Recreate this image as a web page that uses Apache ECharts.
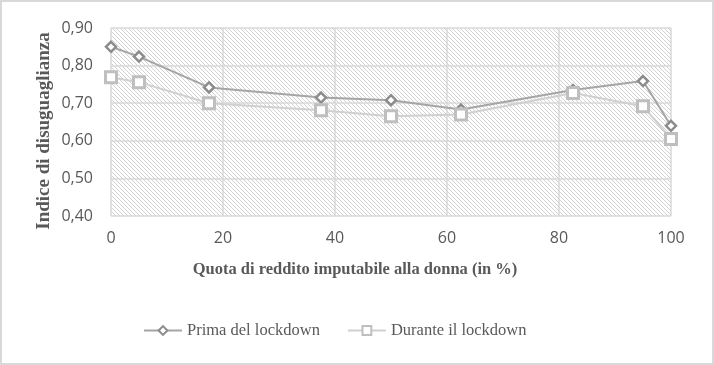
<!DOCTYPE html>
<html>
<head>
<meta charset="utf-8">
<script src="https://cdn.jsdelivr.net/npm/echarts@6/dist/echarts.min.js"></script>
<style>
html,body{margin:0;padding:0;background:#fff;}
#chart{width:714px;height:365px;}
</style>
</head>
<body>
<div id="chart"></div>
<script>
// Data
var quota = [0, 5, 17.5, 37.5, 50, 62.5, 82.5, 95, 100];
var prima = [0.850, 0.824, 0.742, 0.715, 0.708, 0.683, 0.735, 0.759, 0.640];
var durante = [0.769, 0.756, 0.700, 0.681, 0.665, 0.670, 0.727, 0.692, 0.605];
var seriesNames = ['Prima del lockdown', 'Durante il lockdown'];
var xTitle = 'Quota di reddito imputabile alla donna (in %)';
var yTitle = 'Indice di disuguaglianza';

function pairs(xs, ys){ return xs.map(function(x,i){ return [x, ys[i]]; }); }

// hatch pattern
var pc = document.createElement('canvas');
pc.width = 4; pc.height = 4;
var g = pc.getContext('2d');
g.fillStyle = '#ffffff'; g.fillRect(0,0,4,4);
g.fillStyle = '#d2d2d2';
for (var i = 0; i < 4; i++) g.fillRect(i, i, 1, 1);

var chart = echarts.init(document.getElementById('chart'), null, {renderer:'canvas'});
var labelFont = {fontFamily:'Open Sans', fontSize:16, color:'#595959'};
chart.setOption({
  animation:false,
  backgroundColor:'#ffffff',
  grid:{left:111, right:43, top:28, bottom:149, show:true, borderWidth:0,
        backgroundColor:{image:pc, repeat:'repeat'}},
  xAxis:{type:'value', min:0, max:100, interval:20,
    axisLine:{show:false}, axisTick:{show:false},
    axisLabel:Object.assign({margin:14}, labelFont),
    splitLine:{show:true, lineStyle:{color:'#d9d9d9', width:1.5}}},
  yAxis:{type:'value', min:0.4, max:0.9, interval:0.1,
    axisLine:{show:false}, axisTick:{show:false},
    axisLabel:Object.assign({margin:18, formatter:function(v){return v.toFixed(2).replace('.', ',');}}, labelFont),
    splitLine:{show:true, lineStyle:{color:'#d9d9d9', width:1.5}}},
  legend:{bottom:21, left:138, itemWidth:38, itemHeight:11, itemGap:27,
    textStyle:{fontFamily:'Liberation Serif', fontSize:16.5, color:'#595959'},
    data:seriesNames},
  graphic:[
    {type:'rect', shape:{x:1, y:1, width:712, height:363}, style:{fill:'none', stroke:'#d9d9d9', lineWidth:2}, silent:true},
    {type:'text', x:355, y:270, style:{text:xTitle, font:'bold 16.5px "Liberation Serif"', fill:'#595959', textAlign:'center', textVerticalAlign:'middle'}},
    {type:'text', x:44, y:131, rotation:Math.PI/2, style:{text:yTitle, font:'bold 19px "Liberation Serif"', fill:'#595959', textAlign:'center', textVerticalAlign:'middle'}}
  ],
  series:[
    {name:seriesNames[0], type:'line', data:pairs(quota, prima),
      symbol:'diamond', symbolSize:10,
      lineStyle:{color:'#a5a5a5', width:2},
      itemStyle:{color:'#ffffff', borderColor:'#8c8c8c', borderWidth:2.5}},
    {name:seriesNames[1], type:'line', data:pairs(quota, durante),
      symbol:'rect', symbolSize:11,
      lineStyle:{color:'#d0d0d0', width:2},
      itemStyle:{color:'#ffffff', borderColor:'#bfbfbf', borderWidth:3}}
  ]
});
</script>
</body>
</html>
